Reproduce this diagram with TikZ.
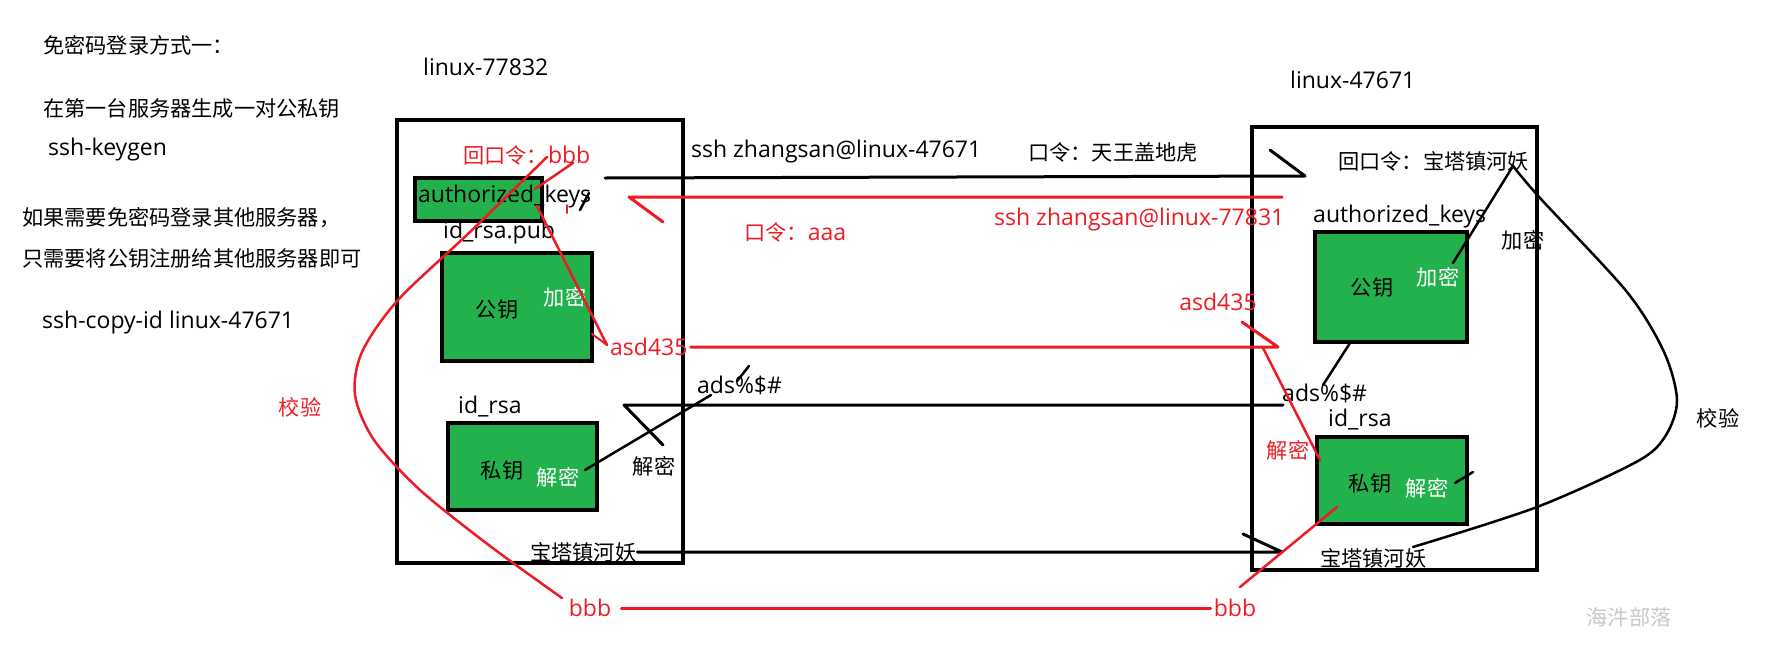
\documentclass[tikz,border=0pt]{standalone}
\usepackage{fontspec}
\setmainfont{Noto Sans CJK SC}
\newfontfamily\lat{Open Sans}
\definecolor{pred}{HTML}{ED1C24}
\definecolor{pgreen}{HTML}{22B14C}
\definecolor{wm}{HTML}{C8C8C8}
\begin{document}
\begin{tikzpicture}[x=1pt,y=-1pt,
  every node/.style={inner sep=0pt, font=\fontsize{21.2}{25}\selectfont},
  la/.style={font=\fontsize{23}{27}\selectfont\lat},
  lbl/.style={anchor=west},
  rt/.style={text=pred},
  wt/.style={text=white},
  frame/.style={draw, line width=4pt},
  keybox/.style={draw, line width=4.5pt, fill=pgreen},
  bl/.style={line width=3pt, line cap=round, line join=round},
  rl/.style={line width=3pt, draw=pred, line cap=round, line join=round},
  thin/.style={line width=2.5pt},
]
\useasboundingbox (0,0) rectangle (1776,667);

% left explanatory text
\node[lbl] (t1) at (43,45) {免密码登录方式一：};
\node[lbl] (t2) at (43,108) {在第一台服务器生成一对公私钥};
\node[lbl, la] (t3) at (48,150) {ssh-keygen};
\node[lbl] (t4) at (22,218) {如果需要免密码登录其他服务器，};
\node[lbl] (t5) at (22,258) {只需要将公钥注册给其他服务器即可};
\node[lbl, la] (t6) at (42,323) {ssh-copy-id linux-47671};

% host names
\node[lbl, la] (hL) at (423,67) {linux-77832};
\node[lbl, la] (hR) at (1290,80) {linux-47671};

% server frames
\node[frame, minimum width=286pt, minimum height=443pt] (L) at (540,341.5) {};
\node[frame, minimum width=285pt, minimum height=443pt] (R) at (1394.5,348.5) {};

% left server
\node[keybox, minimum width=127pt, minimum height=43pt] (akL) at (478.5,199.5) {};
\node[lbl, la] (akLt) at (418,197) {authorized\_keys};
\node[lbl, rt] (hkL) at (463,155) {回口令：{\fontsize{23}{27}\selectfont\lat bbb}};
\node[lbl, la] (pubL) at (443,233) {id\_rsa.pub};
\node[keybox, minimum width=150pt, minimum height=108pt] (gkL) at (517,307) {};
\node (gkLt) at (497,310) {公钥};
\node[wt] (jmL) at (565,297) {加密};
\node[lbl, rt, la] (asdL) at (610,347) {asd435};
\node[lbl, la] (prvL) at (458,407) {id\_rsa};
\node[keybox, minimum width=149pt, minimum height=87pt] (skL) at (522.5,466.5) {};
\node (skLt) at (502,470) {私钥};
\node[wt] (dmL) at (558,477) {解密};
\node (dmLo) at (654,466) {解密};
\node[lbl] (btL) at (530,552) {宝塔镇河妖};
\node[lbl, la] (adsL) at (697,385) {ads\%\$\#};

% middle texts
\node[lbl, la] (sshT) at (691,152) {ssh zhangsan@linux-47671};
\node[lbl] (pwT) at (1028,152) {口令：天王盖地虎};
\node[lbl, rt, la] (sshT2) at (994,220) {ssh zhangsan@linux-77831};
\node[lbl, rt] (pwT2) at (744,232) {口令：{\fontsize{23}{27}\selectfont\lat aaa}};

% right server
\node[lbl] (hkR) at (1338,161) {回口令：宝塔镇河妖};
\node[lbl, la] (akR) at (1313,217) {authorized\_keys};
\node[keybox, minimum width=152pt, minimum height=110pt] (gkR) at (1391,287) {};
\node (gkRt) at (1372,288) {公钥};
\node[wt] (jmR) at (1438,277) {加密};
\node (jmRo) at (1523,240) {加密};
\node[rt, la] (asdR) at (1218,302) {asd435};
\node[lbl, la] (adsR) at (1282,393) {ads\%\$\#};
\node[lbl, la] (prvR) at (1328,420) {id\_rsa};
\node[keybox, minimum width=150pt, minimum height=87pt] (skR) at (1392,480.5) {};
\node (skRt) at (1370,483) {私钥};
\node[wt] (dmR) at (1427,488) {解密};
\node[rt] (dmRr) at (1288,450) {解密};
\node[lbl] (btR) at (1320,558) {宝塔镇河妖};

% verification labels
\node (vR) at (1718,418) {校验};
\node[rt] (vL) at (300,407) {校验};
\node[rt, la] (bbbL) at (590,608) {bbb};
\node[rt, la] (bbbR) at (1235,608) {bbb};
\node[text=wm] (wmk) at (1629,617) {海汼部落};

% connector coordinates
\coordinate (sshS) at (605,178);
\coordinate (sshE) at (1305,176);
\coordinate (sshB) at (1270,150);
\coordinate (rsS) at (1282,197);
\coordinate (rsE) at (629,197);
\coordinate (rsB) at (663,222);
\coordinate (asdE) at (1278,347);
\coordinate (asdB) at (1242,322);
\coordinate (adsS) at (1283,405);
\coordinate (adsE) at (624,405);
\coordinate (adsB) at (663,445);
\coordinate (btE) at (1282,552);
\coordinate (btB) at (1243,534);

% main message arrows
\draw[bl] (sshS) -- (sshE) -- (sshB);
\draw[rl] (rsS) -- (rsE) -- (rsB);
\draw[rl] ([xshift=3pt]asdL.east) -- (asdE) -- (asdB);
\draw[bl] (adsS) -- (adsE) -- (adsB);
\draw[bl] ([xshift=1pt]btL.east) -- (btE) -- (btB);
\draw[rl] ([xshift=10pt]bbbL.east) -- ([xshift=-3pt]bbbR.west);

% left side strokes
\coordinate (c1) at (547,157);
\coordinate (c2) at (470,232);
\coordinate (c3) at (398,300);
\coordinate (c4) at (362,352);
\coordinate (c5) at (355,395);
\coordinate (c6) at (374,440);
\coordinate (c7) at (420,490);
\coordinate (c8) at (490,546);
\coordinate (c9) at (562,598);
\draw[rl, thin] plot[smooth, tension=0.5] coordinates {(c1) (c2) (c3) (c4) (c5) (c6) (c7) (c8) (c9)};

\coordinate (k1) at (573,163);
\coordinate (k2) at (535,189);
\coordinate (k3) at (537,206);
\coordinate (k4) at (607,345);
\draw[rl, thin] (k1) -- (k2);
\draw[rl, thin] (k3) -- (k4);
\coordinate (k5) at (592,334);
\draw[rl, line width=2pt] (k5) -- (k4);
\coordinate (dot1) at (567,205);
\coordinate (dot2) at (567,213);
\draw[rl, line width=2pt] (dot1) -- (dot2);
\coordinate (s1) at (580,210);
\coordinate (s2) at (589,193);
\draw[bl, line width=2.5pt] (s1) -- (s2);

\coordinate (d1) at (585,470);
\coordinate (d2) at (711,395);
\draw[bl, line width=2.5pt] (d1) -- (d2);
\coordinate (d3) at (737,381);
\coordinate (d4) at (749,366);
\draw[bl, line width=2.5pt] (d3) -- (d4);

% right side strokes
\coordinate (e1) at (1453,263);
\coordinate (e2) at (1513,166);
\coordinate (e3) at (1540,198);
\coordinate (e4) at (1627,292);
\coordinate (e5) at (1664,352);
\coordinate (e6) at (1677,400);
\coordinate (e7) at (1666,435);
\coordinate (e8) at (1638,461);
\coordinate (e9) at (1537,507);
\coordinate (e10) at (1413,547);
\draw[bl, thin] (e1) -- (e2);
\draw[bl, thin] plot[smooth, tension=0.5] coordinates {(e2) (e3) (e4) (e5) (e6) (e7) (e8) (e9) (e10)};

\coordinate (f1) at (1323,385);
\coordinate (f2) at (1350,343);
\draw[bl, thin] (f1) -- (f2);
\coordinate (g1) at (1455,483);
\coordinate (g2) at (1473,472);
\draw[bl, thin] (g1) -- (g2);

\coordinate (r1) at (1263,348);
\coordinate (r2) at (1320,460);
\draw[rl, thin] (r1) -- (r2);
\coordinate (r3) at (1337,507);
\coordinate (r4) at (1240,587);
\draw[rl, thin] (r3) -- (r4);
\end{tikzpicture}
\end{document}
